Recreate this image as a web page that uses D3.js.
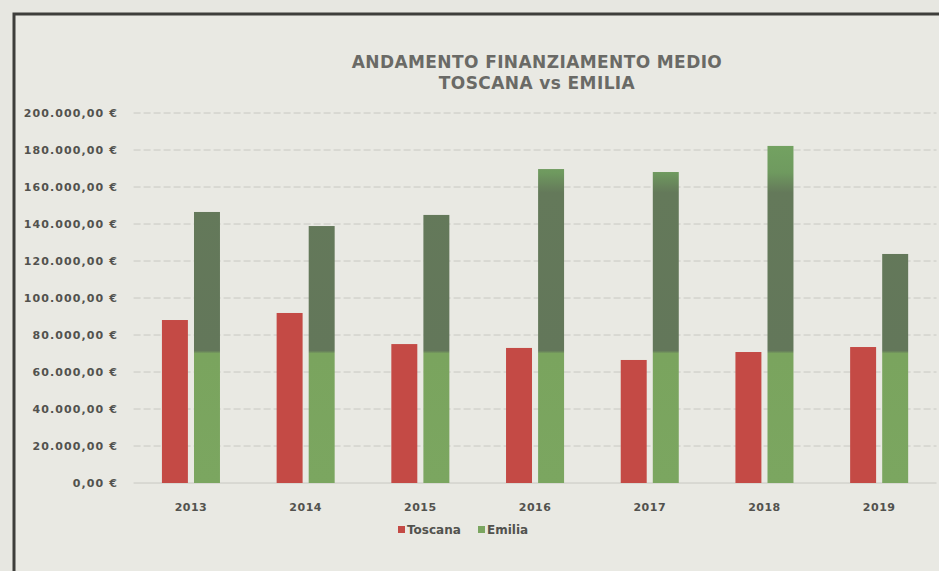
<!DOCTYPE html>
<html>
<head>
<meta charset="utf-8">
<script src="https://cdn.jsdelivr.net/npm/d3@7"></script>
<style>
  body { margin: 0; background: #e7e7e1; }
  svg { display: block; }
  text { font-family: "DejaVu Sans", sans-serif; font-weight: bold; }
</style>
</head>
<body>
<script>
// data
const years = ["2013", "2014", "2015", "2016", "2017", "2018", "2019"];
const toscana = [88100, 91900, 75100, 73000, 66500, 70800, 73500];
const emilia = [146500, 138900, 144900, 169700, 168100, 182200, 123800];
const seriesNames = ["Toscana", "Emilia"];
const titleLines = ["ANDAMENTO FINANZIAMENTO MEDIO", "TOSCANA vs EMILIA"];

const width = 939, height = 571;

// italian euro format -> "200.000,00 €"
const itLocale = d3.formatLocale({
  decimal: ",", thousands: ".", grouping: [3], currency: ["", " €"]
});
const euro = itLocale.format("$,.2f");

const svg = d3.select("body").append("svg")
  .attr("width", width)
  .attr("height", height);

const defs = svg.append("defs");

const y = d3.scaleLinear()
  .domain([0, 200000])
  .range([483, 113]);

const x0 = d3.scaleBand()
  .domain(years)
  .range([133.6, 936.5])
  .paddingInner(0.494)
  .paddingOuter(0.247);

const x1 = d3.scaleBand()
  .domain(seriesNames)
  .range([0, x0.bandwidth()])
  .paddingInner(0.19);

// print tones of the green bars, fixed to the value axis
const grad = defs.append("linearGradient")
  .attr("id", "greenGrad")
  .attr("gradientUnits", "userSpaceOnUse")
  .attr("x1", 0).attr("x2", 0)
  .attr("y1", y(0)).attr("y2", y(200000));
grad.selectAll("stop")
  .data([
    {v: 0, c: "#7ba660"},
    {v: 70000, c: "#7aa45e"},
    {v: 71500, c: "#63775a"},
    {v: 157000, c: "#64795a"},
    {v: 168000, c: "#6f9a5f"},
    {v: 200000, c: "#78ac64"}
  ])
  .enter().append("stop")
  .attr("offset", d => d.v / 200000)
  .attr("stop-color", d => d.c);

// frame (only top and left edges are inside the picture)
svg.append("rect")
  .attr("x", 14).attr("y", 14)
  .attr("width", 960).attr("height", 600)
  .attr("fill", "#e9e9e3")
  .attr("stroke", "#3e3e3b")
  .attr("stroke-width", 3);

// title
svg.append("g")
  .selectAll("text")
  .data(titleLines)
  .enter().append("text")
  .attr("x", 537)
  .attr("y", (d, i) => 68 + i * 21)
  .attr("text-anchor", "middle")
  .attr("font-size", 17)
  .attr("letter-spacing", 0.4)
  .attr("fill", "#6a6a66")
  .text(d => d);

// gridlines
const ticks = y.ticks(10);
svg.append("g")
  .selectAll("line")
  .data(ticks)
  .enter().append("line")
  .attr("x1", x0.range()[0])
  .attr("x2", x0.range()[1])
  .attr("y1", d => y(d))
  .attr("y2", d => y(d))
  .attr("stroke", "#c8c8c2")
  .attr("stroke-width", 1)
  .attr("stroke-dasharray", d => d === 0 ? null : "7,3");

// y labels
svg.append("g")
  .selectAll("text")
  .data(ticks)
  .enter().append("text")
  .attr("x", 118)
  .attr("y", d => y(d) + 4)
  .attr("text-anchor", "end")
  .attr("font-size", 11)
  .attr("letter-spacing", 1.1)
  .attr("fill", "#52524e")
  .text(d => euro(d));

// bars
const rows = years.map((yr, i) => ({year: yr, values: [toscana[i], emilia[i]]}));
const colors = ["#c44a45", "url(#greenGrad)"];

const groups = svg.append("g")
  .selectAll("g")
  .data(rows)
  .enter().append("g")
  .attr("transform", d => `translate(${x0(d.year)},0)`);

groups.selectAll("rect")
  .data(d => d.values.map((v, k) => ({name: seriesNames[k], value: v, k: k})))
  .enter().append("rect")
  .attr("x", d => x1(d.name))
  .attr("width", x1.bandwidth())
  .attr("y", d => y(d.value))
  .attr("height", d => y(0) - y(d.value))
  .attr("fill", d => colors[d.k]);

// year labels
svg.append("g")
  .selectAll("text")
  .data(years)
  .enter().append("text")
  .attr("x", d => x0(d) + x0.bandwidth() / 2)
  .attr("y", 511)
  .attr("text-anchor", "middle")
  .attr("font-size", 11)
  .attr("letter-spacing", 0.5)
  .attr("fill", "#52524e")
  .text(d => d);

// legend
const legendX = [398, 478];
const legend = svg.append("g")
  .selectAll("g")
  .data(seriesNames)
  .enter().append("g")
  .attr("transform", (d, i) => `translate(${legendX[i]},534)`);
legend.append("rect")
  .attr("x", 0).attr("y", -8)
  .attr("width", 7).attr("height", 7)
  .attr("fill", (d, i) => i === 0 ? "#c44a45" : "#7ba660");
legend.append("text")
  .attr("x", 9)
  .attr("y", 0)
  .attr("font-size", 12)
  .attr("fill", "#52524e")
  .text(d => d);
</script>
</body>
</html>
